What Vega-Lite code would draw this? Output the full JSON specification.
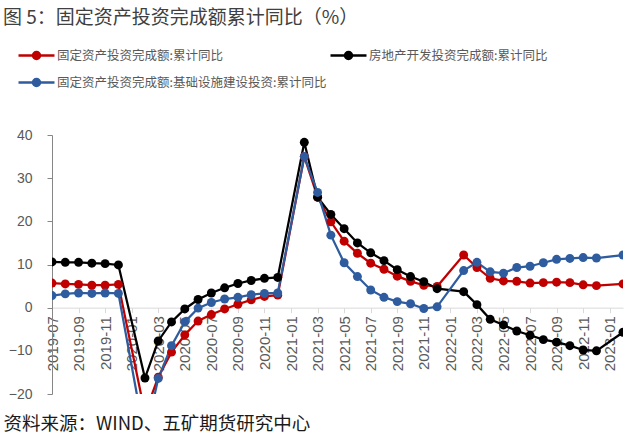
{
  "$schema": "https://vega.github.io/schema/vega-lite/v6.json",
  "width": 571,
  "height": 259,
  "autosize": {"type": "none"},
  "padding": {"left": 52, "top": 135, "right": 17, "bottom": 52},
  "background": "white",
  "config": {"view": {"stroke": null}, "font": "Noto Sans CJK SC"},
  "title": {
    "text": "图 5：固定资产投资完成额累计同比（%）",
    "anchor": "start",
    "frame": "group",
    "dx": -49,
    "offset": 19,
    "fontSize": 19,
    "fontWeight": "normal",
    "color": "#404040",
    "font": "Noto Sans CJK SC"
  },
  "data": {
    "values": [
      {"m": "2019-07", "a": 5.7, "b": 10.6, "c": 2.8},
      {"m": "2019-08", "a": 5.5, "b": 10.5, "c": 3.2},
      {"m": "2019-09", "a": 5.4, "b": 10.5, "c": 3.4},
      {"m": "2019-10", "a": 5.2, "b": 10.3, "c": 3.3},
      {"m": "2019-11", "a": 5.2, "b": 10.2, "c": 3.4},
      {"m": "2019-12", "a": 5.4, "b": 9.9, "c": 3.3},
      {"m": "2020-02", "a": -24.5, "b": -16.3, "c": -30.3},
      {"m": "2020-03", "a": -16.1, "b": -7.7, "c": -16.4},
      {"m": "2020-04", "a": -10.3, "b": -3.3, "c": -8.8},
      {"m": "2020-05", "a": -6.3, "b": -0.3, "c": -3.3},
      {"m": "2020-06", "a": -3.1, "b": 1.9, "c": -0.1},
      {"m": "2020-07", "a": -1.6, "b": 3.4, "c": 1.2},
      {"m": "2020-08", "a": -0.3, "b": 4.6, "c": 2.0},
      {"m": "2020-09", "a": 0.8, "b": 5.6, "c": 2.4},
      {"m": "2020-10", "a": 1.8, "b": 6.3, "c": 3.0},
      {"m": "2020-11", "a": 2.6, "b": 6.8, "c": 3.3},
      {"m": "2020-12", "a": 2.9, "b": 7.0, "c": 3.4},
      {"m": "2021-02", "a": 35.0, "b": 38.3, "c": 35.0},
      {"m": "2021-03", "a": 25.6, "b": 25.6, "c": 26.7},
      {"m": "2021-04", "a": 19.9, "b": 21.6, "c": 16.8},
      {"m": "2021-05", "a": 15.4, "b": 18.3, "c": 10.4},
      {"m": "2021-06", "a": 12.6, "b": 15.0, "c": 7.2},
      {"m": "2021-07", "a": 10.3, "b": 12.7, "c": 4.1},
      {"m": "2021-08", "a": 8.9, "b": 10.9, "c": 2.4},
      {"m": "2021-09", "a": 7.3, "b": 8.8, "c": 1.4},
      {"m": "2021-10", "a": 6.1, "b": 7.2, "c": 0.9},
      {"m": "2021-11", "a": 5.2, "b": 6.0, "c": -0.2},
      {"m": "2021-12", "a": 4.9, "b": 4.4, "c": 0.2},
      {"m": "2022-02", "a": 12.2, "b": 3.7, "c": 8.6},
      {"m": "2022-03", "a": 9.3, "b": 0.7, "c": 10.5},
      {"m": "2022-04", "a": 6.8, "b": -2.7, "c": 8.3},
      {"m": "2022-05", "a": 6.2, "b": -4.0, "c": 8.0},
      {"m": "2022-06", "a": 6.1, "b": -5.4, "c": 9.3},
      {"m": "2022-07", "a": 5.7, "b": -6.4, "c": 9.6},
      {"m": "2022-08", "a": 5.8, "b": -7.4, "c": 10.4},
      {"m": "2022-09", "a": 5.9, "b": -8.0, "c": 11.2},
      {"m": "2022-10", "a": 5.8, "b": -8.8, "c": 11.4},
      {"m": "2022-11", "a": 5.3, "b": -9.8, "c": 11.6},
      {"m": "2022-12", "a": 5.1, "b": -10.0, "c": 11.5},
      {"m": "2023-02", "a": 5.5, "b": -5.7, "c": 12.2}
    ]
  },
  "transform": [{"fold": ["a", "b", "c"], "as": ["s", "v"]}],
  "encoding": {
    "x": {
      "field": "m",
      "type": "ordinal",
      "scale": {
        "type": "point",
        "padding": 0,
        "domain": ["2019-07","2019-08","2019-09","2019-10","2019-11","2019-12",
          "2020-01","2020-02","2020-03","2020-04","2020-05","2020-06","2020-07","2020-08","2020-09","2020-10","2020-11","2020-12",
          "2021-01","2021-02","2021-03","2021-04","2021-05","2021-06","2021-07","2021-08","2021-09","2021-10","2021-11","2021-12",
          "2022-01","2022-02","2022-03","2022-04","2022-05","2022-06","2022-07","2022-08","2022-09","2022-10","2022-11","2022-12",
          "2023-01","2023-02"]
      },
      "axis": {
        "values": ["2019-07","2019-09","2019-11","2020-01","2020-03","2020-05","2020-07","2020-09","2020-11","2021-01","2021-03","2021-05","2021-07","2021-09","2021-11","2022-01","2022-03","2022-05","2022-07","2022-09","2022-11","2023-01"],
        "labelAngle": -90,
        "offset": -86.33,
        "domainColor": "#d9d9d9",
        "tickColor": "#d9d9d9",
        "tickSize": 5,
        "labelPadding": 3,
        "labelColor": "#595959",
        "labelFont": "Liberation Sans",
        "labelFontSize": 15,
        "grid": false,
        "title": "资料来源：WIND、五矿期货研究中心",
        "titleFont": "Noto Sans CJK SC",
        "titleFontSize": 18.5,
        "titleFontWeight": "normal",
        "titleColor": "#1a1a1a",
        "titleAnchor": "start",
        "titleAlign": "left",
        "titleBaseline": "middle",
        "titleX": -49,
        "titleY": 116
      }
    },
    "y": {
      "field": "v",
      "type": "quantitative",
      "scale": {"domain": [-20, 40], "nice": false, "zero": false},
      "axis": {
        "values": [-20, -10, 0, 10, 20, 30, 40],
        "domainColor": "#868686",
        "tickColor": "#868686",
        "tickSize": 5,
        "labelPadding": 15,
        "labelColor": "#595959",
        "labelFont": "Liberation Sans",
        "labelFontSize": 14,
        "grid": false,
        "title": null
      }
    },
    "color": {
      "field": "s",
      "type": "nominal",
      "scale": {"domain": ["a", "c", "b"], "range": ["#C00000", "#2E5C9E", "#000000"]},
      "legend": {
        "orient": "none",
        "legendX": -24,
        "legendY": -88,
        "columns": 2,
        "columnPadding": -2,
        "rowPadding": 10,
        "title": null,
        "symbolType": "M-2.571,0L2.571,0M-0.5,0A0.5,0.5,0,1,0,0.5,0A0.5,0.5,0,1,0,-0.5,0Z",
        "symbolSize": 196,
        "symbolStrokeWidth": 2.5,
        "labelOffset": 12,
        "labelFont": "Noto Sans CJK SC",
        "labelFontSize": 12.5,
        "labelColor": "#595959",
        "labelLimit": 400,
        "labelExpr": "datum.value == 'a' ? '固定资产投资完成额:累计同比' : datum.value == 'b' ? '房地产开发投资完成额:累计同比' : '固定资产投资完成额:基础设施建设投资:累计同比'",
        "encode": {
          "symbols": {
            "update": {
              "fill": {"scale": "color", "field": "value"},
              "stroke": {"scale": "color", "field": "value"},
              "opacity": {"value": 1}
            }
          }
        }
      }
    }
  },
  "layer": [
    {"mark": {"type": "line", "strokeWidth": 2.25, "clip": true}},
    {"mark": {"type": "point", "filled": true, "size": 80, "opacity": 1, "clip": true}}
  ]
}
